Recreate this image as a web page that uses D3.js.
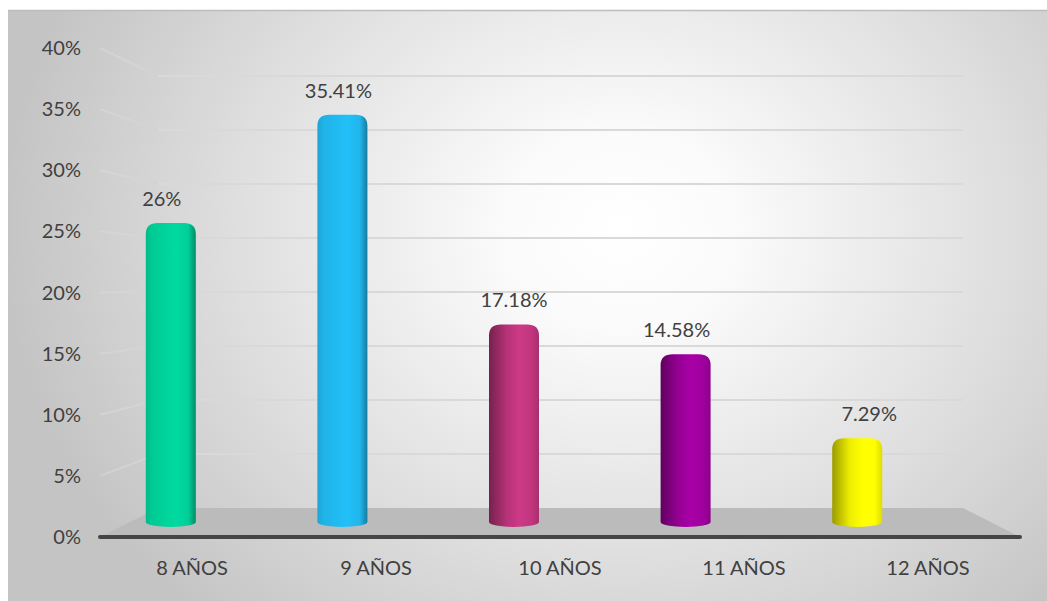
<!DOCTYPE html>
<html>
<head>
<meta charset="utf-8">
<script src="https://cdn.jsdelivr.net/npm/d3@7"></script>
<style>
  html, body { margin: 0; padding: 0; background: #ffffff; }
  svg { display: block; }
  text { font-family: Lato, "Open Sans", sans-serif; fill: #404040; }
</style>
</head>
<body>
<svg id="chart" width="1047" height="601"></svg>
<script>
// Distribución por edad
const categories = ["8 AÑOS", "9 AÑOS", "10 AÑOS", "11 AÑOS", "12 AÑOS"];
const values = [26, 35.41, 17.18, 14.58, 7.29];
const valueLabels = ["26%", "35.41%", "17.18%", "14.58%", "7.29%"];
const barColors = ["#00cf98", "#20b6ec", "#c2367f", "#a0009e", "#ffff00"];
const tickValues = [0, 5, 10, 15, 20, 25, 30, 35, 40];

const svg = d3.select("#chart");
const W = 1047, H = 601;
const defs = svg.append("defs");

// Background panel with soft radial light
const bg = defs.append("radialGradient").attr("id", "bgGrad")
  .attr("gradientUnits", "userSpaceOnUse")
  .attr("cx", 620).attr("cy", 230).attr("r", 620)
  .attr("gradientTransform", "translate(620,230) scale(1,0.85) translate(-620,-230)");
bg.append("stop").attr("offset", "0").attr("stop-color", "#ffffff");
bg.append("stop").attr("offset", "0.18").attr("stop-color", "#fbfbfb");
bg.append("stop").attr("offset", "0.6").attr("stop-color", "#e0e0e0");
bg.append("stop").attr("offset", "1").attr("stop-color", "#c4c4c4");

svg.append("rect").attr("x", 8).attr("y", 10).attr("width", W - 8).attr("height", H - 10)
  .attr("fill", "url(#bgGrad)");
svg.append("line").attr("x1", 8).attr("x2", W).attr("y1", 10.5).attr("y2", 10.5)
  .attr("stroke", "#bdbdbd").attr("stroke-width", 1.5);

// Geometry of the 3D frame: front plane and back wall
const front = { left: 100, right: 1020 };
const back = { left: 158, right: 963 };

const yFront = d3.scaleLinear().domain([0, 40]).range([537, 48]);
const yBack = d3.scaleLinear().domain([0, 40]).range([508, 76]);
const yBar = d3.scaleLinear().domain([0, 40]).range([522, 62]);

const xFront = d3.scaleBand().domain(categories).range([front.left, front.right]);
const xBar = d3.scaleBand().domain(categories).range([85, 943]);
const barW = 50;

// Side wall fade for the slanted gridlines
const wallGrad = defs.append("linearGradient").attr("id", "wallGrad")
  .attr("gradientUnits", "userSpaceOnUse")
  .attr("x1", front.left).attr("x2", back.left).attr("y1", 0).attr("y2", 0);
wallGrad.append("stop").attr("offset", "0").attr("stop-color", "#dadada").attr("stop-opacity", 0.5);
wallGrad.append("stop").attr("offset", "1").attr("stop-color", "#d2d2d2").attr("stop-opacity", 1);

// Gridlines (left wall + back wall)
const grid = svg.append("g");
tickValues.filter(t => t > 0).forEach(t => {
  grid.append("line")
    .attr("x1", front.left).attr("y1", yFront(t))
    .attr("x2", back.left).attr("y2", yBack(t))
    .attr("stroke", "url(#wallGrad)").attr("stroke-width", 2);
  grid.append("line")
    .attr("x1", back.left).attr("y1", yBack(t))
    .attr("x2", back.right).attr("y2", yBack(t))
    .attr("stroke", "#d9d9d9").attr("stroke-width", 2);
});

// Floor
svg.append("path")
  .attr("d", d3.line()([
    [front.left, yFront(0)], [back.left, yBack(0)],
    [back.right, yBack(0)], [front.right, yFront(0)]
  ]) + "Z")
  .attr("fill", "#bbbbbb");
svg.append("line")
  .attr("x1", front.left).attr("x2", front.right)
  .attr("y1", yFront(0)).attr("y2", yFront(0))
  .attr("stroke", "#454545").attr("stroke-width", 4).attr("stroke-linecap", "round");

// Value axis labels
svg.append("g").selectAll("text").data(tickValues).join("text")
  .attr("x", 81).attr("y", d => yFront(d) + 7)
  .attr("text-anchor", "end").attr("font-size", 20)
  .text(d => d + "%");

// Cylinder bars
barColors.forEach((c, i) => {
  const base = d3.color(c);
  const g = defs.append("linearGradient").attr("id", "bar" + i)
    .attr("x1", "0").attr("x2", "1").attr("y1", "0").attr("y2", "0");
  const leftDark = i >= 2;
  g.append("stop").attr("offset", "0").attr("stop-color", base.darker(leftDark ? 1.4 : 0.3));
  g.append("stop").attr("offset", leftDark ? "0.35" : "0.12").attr("stop-color", base.darker(leftDark ? 0.2 : 0.05));
  g.append("stop").attr("offset", "0.6").attr("stop-color", base.brighter(0.15));
  g.append("stop").attr("offset", "0.85").attr("stop-color", base);
  g.append("stop").attr("offset", "1").attr("stop-color", base.darker(leftDark ? 0.4 : 1.1));
});

function cylinderPath(x0, x1, top, bottom) {
  const rx = 12, ry = 11, ey = 5;
  return `M${x0},${bottom}` +
    `L${x0},${top + ry}` +
    `Q${x0},${top} ${x0 + rx},${top}` +
    `L${x1 - rx},${top}` +
    `Q${x1},${top} ${x1},${top + ry}` +
    `L${x1},${bottom}` +
    `A${(x1 - x0) / 2},${ey} 0 0 1 ${x0},${bottom}Z`;
}

const labelShift = [-9, -4, 0, -9, 12];
const bars = svg.append("g");
categories.forEach((cat, i) => {
  const cx = xBar(cat) + xBar.bandwidth() / 2;
  bars.append("path")
    .attr("d", cylinderPath(cx - barW / 2, cx + barW / 2, yBar(values[i]), yBar(0)))
    .attr("fill", `url(#bar${i})`);
  bars.append("text")
    .attr("x", cx + labelShift[i]).attr("y", yBar(values[i]) - 17)
    .attr("text-anchor", "middle").attr("font-size", 20)
    .text(valueLabels[i]);
});

// Category axis labels
svg.append("g").selectAll("text").data(categories).join("text")
  .attr("x", d => xFront(d) + xFront.bandwidth() / 2)
  .attr("y", 575)
  .attr("text-anchor", "middle").attr("font-size", 20)
  .text(d => d);
</script>
</body>
</html>
